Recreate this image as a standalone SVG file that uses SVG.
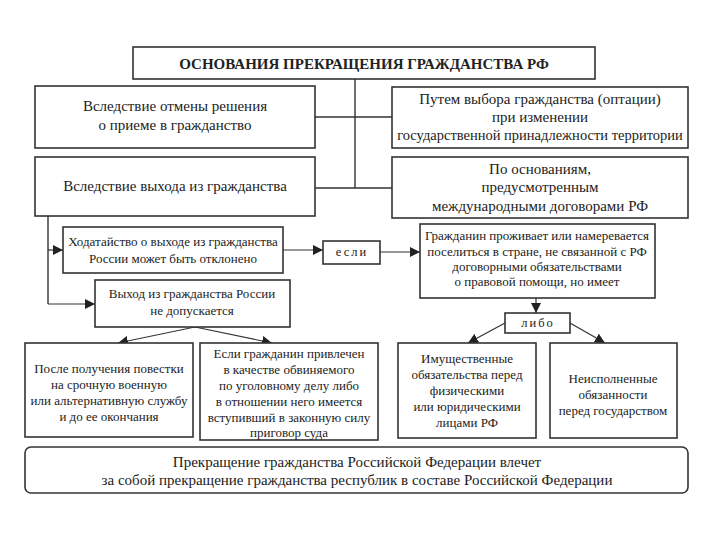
<svg xmlns="http://www.w3.org/2000/svg" width="720" height="540" viewBox="0 0 720 540" font-family="'Liberation Serif', 'Times New Roman', serif">
<defs>
<marker id="ah" viewBox="0 0 10 10" refX="10" refY="5" markerWidth="10" markerHeight="10" markerUnits="userSpaceOnUse" orient="auto">
<path d="M0,0 L10,5 L0,10 z" fill="#222"/>
</marker>
<style>
.b{fill:#fff;stroke:#333;stroke-width:1.6}
.t{font-family:'Liberation Serif','Times New Roman',serif;font-size:15px;fill:#222;text-anchor:middle}
.s{font-family:'Liberation Serif','Times New Roman',serif;font-size:13px;fill:#222;text-anchor:middle}
.k{font-family:'Liberation Serif','Times New Roman',serif;font-size:12.5px;letter-spacing:2px;fill:#222;text-anchor:middle}
.h{font-family:'Liberation Serif','Times New Roman',serif;font-size:15px;font-weight:bold;fill:#222;text-anchor:middle}
.c{fill:none;stroke:#333;stroke-width:1.4}
.a{fill:none;stroke:#333;stroke-width:1.2;marker-end:url(#ah)}
</style>
</defs>
<rect width="720" height="540" fill="#fff"/>
<g id="connectors">
<path class="c" d="M355,79 V188 M315,117 H392 M315,188 H392"/>
<path class="c" d="M48,216 V304"/>
<path class="a" d="M48,250 H63"/>
<path class="a" d="M48,304 H95"/>
<path class="a" d="M283,250 H323"/>
<path class="a" d="M380,252 H420"/>
<path class="a" d="M536,298 V313"/>
<path class="a" d="M505,323 L468,343"/>
<path class="a" d="M570,323 L605,343"/>
<path class="a" d="M195,327 L118,343"/>
<path class="a" d="M195,327 L272,343"/>
</g>
<g id="title">
<rect class="b" x="133" y="47" width="462" height="32"/>
<text class="h" x="364" y="69">ОСНОВАНИЯ ПРЕКРАЩЕНИЯ ГРАЖДАНСТВА РФ</text>
</g>
<g id="n1">
<rect class="b" x="35" y="86" width="280" height="62"/>
<text class="t" x="175" y="111">Вследствие отмены решения</text>
<text class="t" x="175" y="130">о приеме в гражданство</text>
</g>
<g id="n2">
<rect class="b" x="35" y="157" width="280" height="59"/>
<text class="t" x="175" y="191">Вследствие выхода из гражданства</text>
</g>
<g id="n3">
<rect class="b" x="392" y="87" width="296" height="61"/>
<text class="t" x="540" y="104">Путем выбора гражданства (оптации)</text>
<text class="t" x="540" y="122">при изменении</text>
<text class="t" x="540" y="140" style="font-size:14.5px">государственной принадлежности территории</text>
</g>
<g id="n4">
<rect class="b" x="392" y="157" width="296" height="61"/>
<text class="t" x="540" y="174">По основаниям,</text>
<text class="t" x="540" y="192">предусмотренным</text>
<text class="t" x="540" y="211">международными договорами РФ</text>
</g>
<g id="n5">
<rect class="b" x="63" y="227" width="220" height="46"/>
<text class="s" x="173" y="246">Ходатайство о выходе из гражданства</text>
<text class="s" x="173" y="263">России может быть отклонено</text>
</g>
<g id="n6">
<rect class="b" x="323" y="241" width="57" height="23"/>
<text class="k" x="352" y="256">если</text>
</g>
<g id="n7">
<rect class="b" x="420" y="224" width="235" height="74"/>
<text class="s" x="537" y="240">Гражданин проживает или намеревается</text>
<text class="s" x="537" y="256">поселиться в стране, не связанной с РФ</text>
<text class="s" x="537" y="271">договорными обязательствами</text>
<text class="s" x="537" y="286">о правовой помощи, но имеет</text>
</g>
<g id="n8">
<rect class="b" x="95" y="280" width="195" height="47"/>
<text class="s" x="192" y="298">Выход из гражданства России</text>
<text class="s" x="192" y="315">не допускается</text>
</g>
<g id="n9">
<rect class="b" x="505" y="313" width="65" height="20"/>
<text class="k" x="538" y="327">либо</text>
</g>
<g id="n10">
<rect class="b" x="25" y="343" width="168" height="94"/>
<text class="s" x="109" y="373">После получения повестки</text>
<text class="s" x="109" y="389">на срочную военную</text>
<text class="s" x="109" y="405">или альтернативную службу</text>
<text class="s" x="109" y="421">и до ее окончания</text>
</g>
<g id="n11">
<rect class="b" x="200" y="343" width="178" height="97"/>
<text class="s" x="289" y="358">Если гражданин привлечен</text>
<text class="s" x="289" y="374">в качестве обвиняемого</text>
<text class="s" x="289" y="390">по уголовному делу либо</text>
<text class="s" x="289" y="406">в отношении него имеется</text>
<text class="s" x="289" y="422">вступивший в законную силу</text>
<text class="s" x="289" y="437">приговор суда</text>
</g>
<g id="n12">
<rect class="b" x="398" y="343" width="138" height="95"/>
<text class="s" x="467" y="363">Имущественные</text>
<text class="s" x="467" y="379">обязательства перед</text>
<text class="s" x="467" y="395">физическими</text>
<text class="s" x="467" y="411">или юридическими</text>
<text class="s" x="467" y="427">лицами РФ</text>
</g>
<g id="n13">
<rect class="b" x="550" y="343" width="127" height="95"/>
<text class="s" x="613" y="383">Неисполненные</text>
<text class="s" x="613" y="399">обязанности</text>
<text class="s" x="613" y="415">перед государством</text>
</g>
<g id="n14">
<rect class="b" x="25" y="447" width="663" height="46" rx="6"/>
<text class="t" x="357" y="467">Прекращение гражданства Российской Федерации влечет</text>
<text class="t" x="357" y="485">за собой прекращение гражданства республик в составе Российской Федерации</text>
</g>
</svg>
